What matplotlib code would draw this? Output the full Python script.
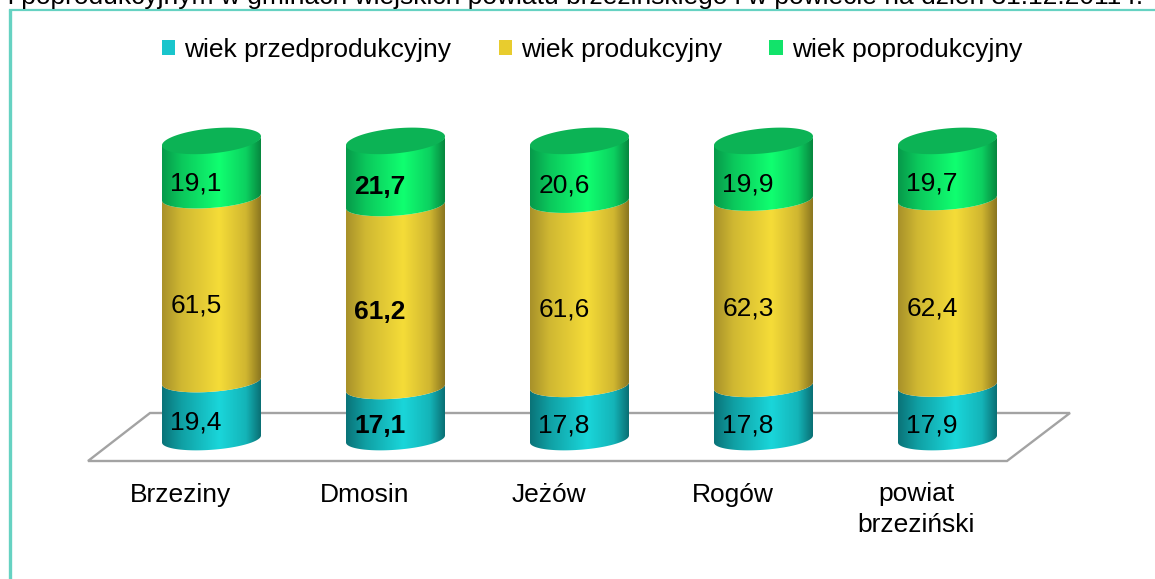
import numpy as np
import matplotlib
matplotlib.use('Agg')
import matplotlib.pyplot as plt
from matplotlib.colors import LinearSegmentedColormap
from matplotlib.patches import Patch, PathPatch
from matplotlib.path import Path

plt.rcParams['font.family'] = ['Liberation Sans', 'DejaVu Sans']

# dane
categories = ['Brzeziny', 'Dmosin', 'Jeżów', 'Rogów', 'powiat\nbrzeziński']
series_names = ['wiek przedprodukcyjny', 'wiek produkcyjny', 'wiek poprodukcyjny']
przed = [19.4, 17.1, 17.8, 17.8, 17.9]
prod = [61.5, 61.2, 61.6, 62.3, 62.4]
po = [19.1, 21.7, 20.6, 19.9, 19.7]
bold_category = 'Dmosin'
title_tail = 'i poprodukcyjnym w gminach wiejskich powiatu brzezińskiego i w powiecie na dzień 31.12.2011 r.'

# kolory
legend_colors = ['#19c5cc', '#e8cc2e', '#12e36a']
side_colors = [
    ['#0a7378', '#10a0a4', '#1ad6da', '#14b4b8', '#0a6f74'],
    ['#a8912a', '#d0b832', '#f5dc38', '#d0b630', '#8a7620'],
    ['#07994a', '#0bc85c', '#10ff70', '#0cd060', '#07873f'],
]
top_color = '#0cb355'
frame_color = '#66d2c2'
floor_color = '#a3a3a3'

fig = plt.figure(figsize=(11.55, 5.79), dpi=100)
ax = fig.add_axes([0, 0, 1, 1])

# os x = numer kategorii, os y = procent
x_per_px = 1 / 184
y_per_px = 100 / 299
xlim = (-211.5 * x_per_px, (1155 - 211.5) * x_per_px)
ylim = ((439 - 579) * y_per_px, 439 * y_per_px)
ax.set_xlim(xlim)
ax.set_ylim(ylim)
ax.axis('off')

half_w = 49.5 * x_per_px


def arc(xc, yc, t, minor=10.8, skew=3.5):
    return np.column_stack([xc + half_w * np.cos(t),
                            yc + (skew * np.cos(t) + minor * np.sin(t)) * y_per_px])


# podloga
floor_y = [(439 - 461) * y_per_px, (439 - 413) * y_per_px]
floor_x = [(88 - 211.5) * x_per_px, (1007 - 211.5) * x_per_px,
           (1070 - 211.5) * x_per_px, (150 - 211.5) * x_per_px]
ax.add_patch(plt.Polygon([(floor_x[0], floor_y[0]), (floor_x[1], floor_y[0]),
                          (floor_x[2], floor_y[1]), (floor_x[3], floor_y[1])],
                         closed=True, fill=False, ec=floor_color, lw=1.7, zorder=1))

front = np.linspace(np.pi, 2 * np.pi, 60)
grad = np.linspace(0, 1, 256).reshape(1, -1)
stops = [0, 0.2, 0.58, 0.85, 1]
series = [przed, prod, po]

for i in range(len(categories)):
    bottom = 0
    for s, values in enumerate(series):
        top = bottom + values[i]
        low = arc(i, bottom, front)
        high = arc(i, top, front)[::-1]
        verts = np.vstack([low, high, low[:1]])
        patch = PathPatch(Path(verts), fc='none', ec='none', zorder=2 + s)
        ax.add_patch(patch)
        cmap = LinearSegmentedColormap.from_list('c%d' % s, list(zip(stops, side_colors[s])))
        im = ax.imshow(grad, cmap=cmap, aspect='auto', zorder=2 + s, interpolation='bilinear',
                       extent=(i - half_w, i + half_w, bottom - 10, top + 10))
        im.set_clip_path(patch)
        bottom = top
    # gorna elipsa
    t = np.linspace(0, 2 * np.pi, 120)
    ax.add_patch(plt.Polygon(arc(i, bottom - 0.3, t, minor=12.5, skew=4.5), closed=True,
                             fc=top_color, ec='none', zorder=6))

ax.set_xlim(xlim)
ax.set_ylim(ylim)

# etykiety wartosci
text_dx = -15.5 * x_per_px
series_dy = [-13 * y_per_px, -16 * y_per_px, -14.5 * y_per_px]
for i, name in enumerate(categories):
    weight = 'bold' if name == bold_category else 'normal'
    bottom = 0
    for values, dy in zip(series, series_dy):
        ax.text(i + text_dx, bottom + values[i] / 2 + dy, str(values[i]).replace('.', ','),
                ha='center', va='center', fontsize=19, fontweight=weight, color='black', zorder=7)
        bottom += values[i]
    # podpisy kategorii, baseline liczony od ostatniej linii
    base_px = 532 if '\n' in name else 502
    ax.text(i - 31 * x_per_px, (439 - base_px) * y_per_px, name, ha='center', va='baseline',
            fontsize=19, color='black', linespacing=1.36, zorder=7)

# legenda
handles = [Patch(fc=c, ec='none') for c in legend_colors]
ax.legend(handles, series_names, ncol=3, loc='center', frameon=False,
          bbox_to_anchor=(592 / 1155, 1 - 50 / 579), fontsize=19,
          handlelength=0.5, handleheight=0.5, handletextpad=0.34, columnspacing=1.8)

# ramka wykresu
left_x = xlim[0] + 10 * x_per_px
top_y = ylim[1] - 10 * y_per_px
ax.plot([left_x, left_x], [ylim[0], top_y], color=frame_color, lw=2.4, zorder=8,
        solid_capstyle='butt')
ax.plot([left_x, xlim[1]], [top_y, top_y], color=frame_color, lw=1.6, zorder=8)

# uciety tytul nad ramka
fig.text(8 / 1155, 1 - 4 / 579, title_tail, ha='left', va='baseline', fontsize=19, color='black')

fig.savefig('out.png', dpi=100)
